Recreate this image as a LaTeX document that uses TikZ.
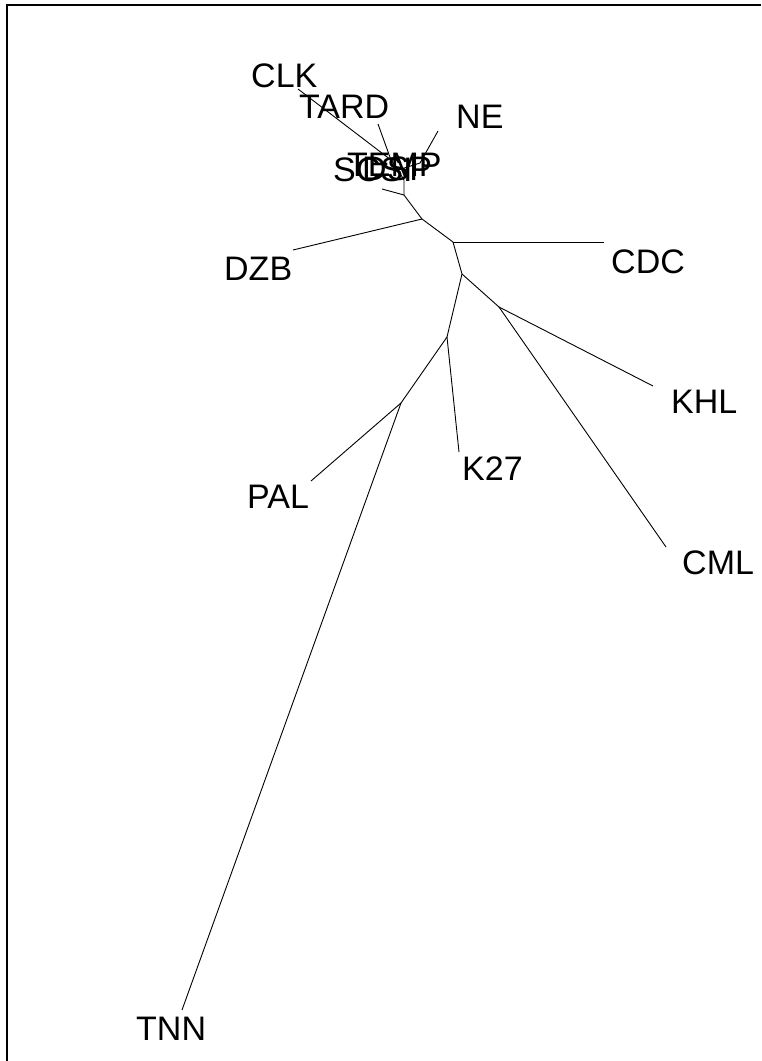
\documentclass[tikz,border=0pt]{standalone}
\usepackage{fontspec}
\setmainfont{Liberation Sans}
\begin{document}
\begin{tikzpicture}[x=1pt,y=-1pt,
  edge/.style={draw=black,line width=0.9pt},
  leaf/.style={anchor=base west,inner sep=0pt,font=\fontsize{34}{34}\selectfont},
  pt/.style={coordinate}]
\useasboundingbox (0,0) rectangle (761,1061);
% frame (top and left sides)
\draw[line width=2pt] (6.5,1061) -- (6.5,4.5) -- (761,4.5);

% internal nodes
\coordinate (A) at (404,195);
\coordinate (B) at (422,219);
\coordinate (C) at (453,242);
\coordinate (D) at (462,274);
\coordinate (E) at (499,307);
\coordinate (F) at (447,337);
\coordinate (G) at (401,403);
\coordinate (H) at (404,180);
\coordinate (J) at (398,170);
\coordinate (P) at (391,160);

% leaf ends
\coordinate (eCLK) at (298,89);
\coordinate (eTARD) at (378,124);
\coordinate (eNE) at (438,131);
\coordinate (eS) at (382,189);
\coordinate (eDZB) at (293,250);
\coordinate (eCDC) at (604,242);
\coordinate (eKHL) at (653,386);
\coordinate (eCML) at (666,547);
\coordinate (eK27) at (459,452);
\coordinate (ePAL) at (311,481);
\coordinate (eTNN) at (182,1010);

% branches
\draw[edge] (A) -- (B) -- (C) -- (D) -- (E);
\draw[edge] (D) -- (F) -- (G);
\draw[edge] (A) -- (H) -- (J) -- (P);
\draw[edge] (P) -- (eCLK);
\draw[edge] (P) -- (eTARD);
\draw[edge] (J) -- (420,163) -- (eNE);
\draw[edge] (A) -- (eS);
\draw[edge] (B) -- (eDZB);
\draw[edge] (C) -- (eCDC);
\draw[edge] (E) -- (eKHL);
\draw[edge] (E) -- (eCML);
\draw[edge] (F) -- (eK27);
\draw[edge] (G) -- (ePAL);
\draw[edge] (G) -- (eTNN);

% labels
\node[leaf] (CLK) at (251,87) {CLK};
\node[leaf] (TARD) at (299,118) {TARD};
\node[leaf] (NE) at (456,128) {NE};
\node[leaf] (TEMP) at (347,176) {TEMP};
\node[leaf] (DSP) at (362,180) {DSP};
\node[leaf] (SCSI) at (333,181) {SCSI};
\node[leaf] (DZB) at (224,280) {DZB};
\node[leaf] (CDC) at (611,273) {CDC};
\node[leaf] (KHL) at (671,413) {KHL};
\node[leaf] (K27) at (462,480) {K27};
\node[leaf] (PAL) at (247,508) {PAL};
\node[leaf] (CML) at (682,574) {CML};
\node[leaf] (TNN) at (136,1040) {TNN};
\end{tikzpicture}
\end{document}
